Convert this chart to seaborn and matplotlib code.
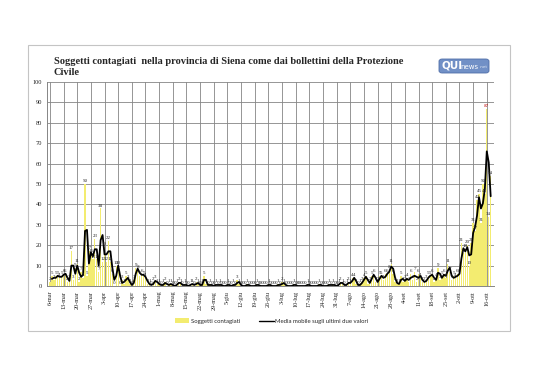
import matplotlib
matplotlib.use("Agg")
import matplotlib.pyplot as plt
import matplotlib.patches as mpatches
from matplotlib.lines import Line2D
import numpy as np
import pandas as pd
import seaborn as sns

""" Soggetti contagiati nella provincia di Siena - barre giornaliere + media mobile """

START = "2020-03-06"
MESI = ["gen", "feb", "mar", "apr", "mag", "giu", "lug", "ago", "set", "ott", "nov", "dic"]

# daily new cases (6-mar .. 18-ott)
contagiati = [
    2, 5, 3, 5, 5, 4, 5, 6, 6, 2, 3, 17, 3, 9, 11, 2, 7, 4, 50, 5,
    17, 16, 13, 23, 13, 7, 38, 12, 19, 12, 22, 12, 6, 0, 10, 10, 0, 3, 1, 5,
    3, 1, 0, 3, 9, 8, 5, 6, 5, 4, 1, 1, 0, 2, 3, 1,
    1, 0, 1, 2, 0, 1, 1, 0, 0, 1, 2, 1, 0, 1, 0, 0, 1, 1, 0, 2, 1, 0, 1,
    5,
    1, 0, 1, 0, 0, 1, 0, 1, 0, 0, 0, 1, 0, 0, 1, 0,
    3,
    1, 0, 0, 0, 1, 0, 0, 0, 0, 1, 0, 0, 0, 0, 0, 1, 0, 0, 0, 0, 1, 0,
    2,
    1, 0, 0, 0, 0, 1, 0, 0, 0, 0, 0, 0, 1, 0, 0, 0, 0, 0, 1, 0, 0, 0, 0, 1, 0, 1, 0, 0,
    1, 2, 1, 0, 1, 2, 1, 4, 4, 1, 0, 1, 2, 4, 5, 1, 2,
    5, 6, 2, 2, 5, 5, 3, 6, 6, 8, 11, 6, 2, 1, 1, 5, 2, 3, 4, 2,
    6, 3, 7, 2, 6, 4, 2, 2, 3, 5,
    5, 6, 2, 4, 9, 3, 5, 6, 4, 11, 7, 3, 5, 4, 6, 6,
    21, 16, 18, 20, 10, 21, 31, 27, 42, 45, 31, 50, 45, 87, 34, 54,
]

TITLE = "Soggetti contagiati  nella provincia di Siena come dai bollettini della Protezione\nCivile"
LABEL_BAR = "Soggetti contagiati"
LABEL_LINE = "Media mobile sugli ultimi due valori"

BAR_COLOR = "#F3EC70"
GRID_COLOR = "#858585"


def _build_df() -> pd.DataFrame:
    n = len(contagiati)
    df = pd.DataFrame({
        "giorno": np.arange(n),
        "data": pd.date_range(START, periods=n),
        "contagiati": contagiati,
    })
    # moving average of the last two values
    df["media"] = df["contagiati"].rolling(2).mean()
    return df


def plot_data() -> None:
    df = _build_df()
    sns.set_style("white")
    plt.rcParams["font.family"] = ["Liberation Serif", "DejaVu Serif"]

    fig = plt.figure(figsize=(5.38, 3.80), dpi=100)
    ax = fig.add_axes([47 / 538, 1 - 286 / 380, (494 - 47) / 538, (286 - 82) / 380])

    sns.barplot(data=df, x="giorno", y="contagiati", native_scale=True,
                color=BAR_COLOR, saturation=1, width=0.7, ax=ax,
                edgecolor="none", linewidth=0)
    sns.lineplot(data=df, x="giorno", y="media", color="black", lw=1.3, ax=ax)

    # value labels on every bar, the max in red
    texts = ax.bar_label(ax.containers[0], labels=[str(v) for v in contagiati],
                         fontsize=3.6, padding=0.6)
    texts[int(np.argmax(contagiati))].set_color("#C00000")

    ax.set_xlim(-1.5, 227.7)
    ax.set_ylim(0, 100)
    ticks = df.iloc[::7]
    ax.set_xticks(ticks["giorno"])
    ax.set_xticklabels([f"{d.day}-{MESI[d.month - 1]}" for d in ticks["data"]],
                       rotation=90, fontsize=4.4)
    ax.set_yticks(range(0, 101, 10))
    ax.set_yticklabels([str(v) for v in range(0, 101, 10)], fontsize=4.6)
    ax.tick_params(length=2, width=0.5, color=GRID_COLOR, pad=1.5)
    ax.grid(True, color=GRID_COLOR, lw=0.6)
    ax.set_axisbelow(True)
    ax.set_xlabel("")
    ax.set_ylabel("")
    for side in ["top", "right"]:
        ax.spines[side].set_visible(False)
    for side in ["left", "bottom"]:
        ax.spines[side].set_color(GRID_COLOR)
        ax.spines[side].set_linewidth(0.7)

    # title
    fig.text(54 / 538, 1 - 57 / 380, TITLE, ha="left", va="top", fontsize=7.5,
             fontweight="bold", linespacing=1.3)

    # QUInews logo
    fig.patches.append(mpatches.FancyBboxPatch(
        (439 / 538, 1 - 73 / 380), 50 / 538, 14 / 380,
        boxstyle="round,pad=0,rounding_size=0.006", transform=fig.transFigure,
        facecolor="#7190c6", edgecolor="#4f6ea8", lw=0.6))
    fig.text(441 / 538, 1 - 66 / 380, "QUI", ha="left", va="center", fontsize=7.5,
             fontweight="bold", color="white", family="DejaVu Sans")
    fig.text(460 / 538, 1 - 67 / 380, "news", ha="left", va="center", fontsize=5,
             color="white", family="DejaVu Sans")
    fig.text(479.5 / 538, 1 - 67.5 / 380, ".net", ha="left", va="center", fontsize=3.0,
             color="#dfe7f5", family="DejaVu Sans")

    # outer frame
    fig.patches.append(mpatches.Rectangle(
        (28 / 538, 1 - 331 / 380), (510 - 28) / 538, (331 - 45) / 380,
        transform=fig.transFigure, fill=False, edgecolor="#c4c4c4", lw=0.8))

    # legend
    handles = [mpatches.Patch(facecolor=BAR_COLOR, edgecolor="none"),
               Line2D([0], [0], color="black", lw=1.0)]
    fig.legend(handles, [LABEL_BAR, LABEL_LINE], loc="center",
               bbox_to_anchor=(0.505, 1 - 321 / 380), ncol=2, frameon=False,
               prop={"family": "Lato", "size": 4.3}, handlelength=2.4,
               handleheight=0.8, columnspacing=3.2, handletextpad=0.3)

    fig.savefig("out.png", dpi=100)


if __name__ == "__main__":
    plot_data()
